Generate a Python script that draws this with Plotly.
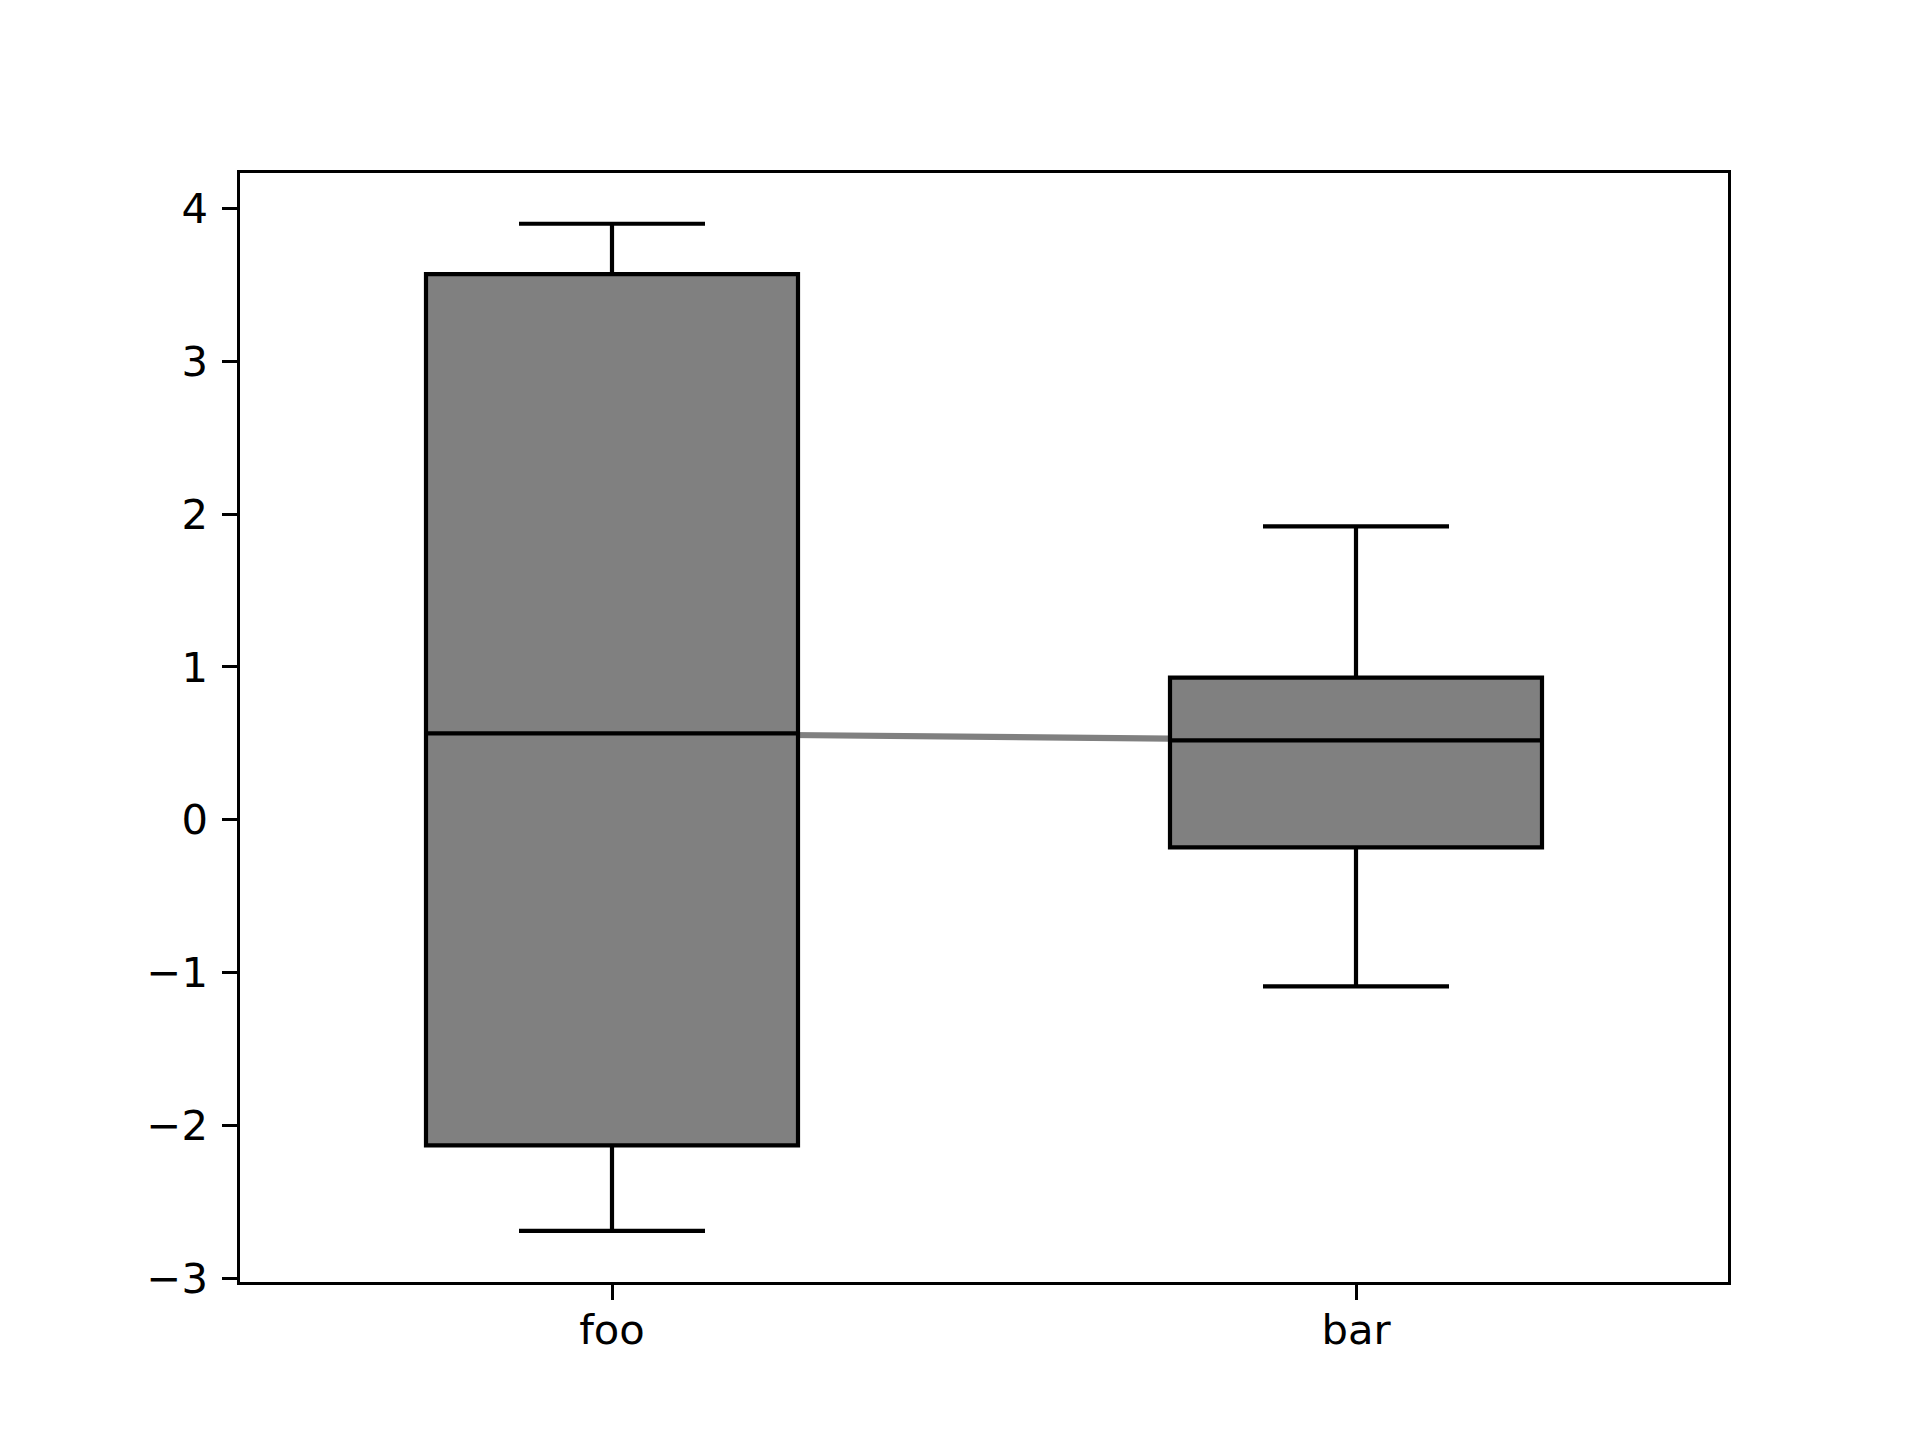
import plotly.graph_objects as go

# box statistics
names = ["foo", "bar"]
lower = [-2.69, -1.09]
q1 = [-2.13, -0.18]
median = [0.566, 0.52]
q3 = [3.57, 0.93]
upper = [3.90, 1.92]

ytick_vals = [-3, -2, -1, 0, 1, 2, 3, 4]
ytick_text = ["\u22123", "\u22122", "\u22121", "0", "1", "2", "3", "4"]

fig = go.Figure()
fig.add_trace(go.Box(x=names, q1=q1, median=median, q3=q3,
                     lowerfence=lower, upperfence=upper,
                     width=0.5, whiskerwidth=0.5,
                     fillcolor="#808080",
                     line=dict(color="black", width=4.2),
                     boxpoints=False, showlegend=False))

# grey line joining the medians, kept under the boxes
fig.add_shape(type="line", xref="x", yref="y", layer="below",
              x0=0, y0=median[0], x1=1, y1=median[1],
              line=dict(color="#808080", width=6.2))

axis_style = dict(showline=True, mirror=True, linecolor="black", linewidth=3.3,
                  showgrid=False, zeroline=False, ticks="outside",
                  ticklen=14.6, tickwidth=3.3, tickcolor="black",
                  tickfont=dict(family="DejaVu Sans", size=41.7, color="black"))

# page has an 8px body margin, so pull the plot area back by that much
fig.update_layout(width=1920, height=1440,
                  margin=dict(l=232, r=200, t=165, b=166),
                  plot_bgcolor="white", paper_bgcolor="white",
                  font=dict(family="DejaVu Sans", size=41.7, color="black"),
                  xaxis=dict(range=[-0.5, 1.5], ticklabelstandoff=-6, **axis_style),
                  yaxis=dict(range=[-3.024, 4.232], tickvals=ytick_vals,
                             ticktext=ytick_text, ticklabelstandoff=6, **axis_style))

fig.write_html("out.html")
